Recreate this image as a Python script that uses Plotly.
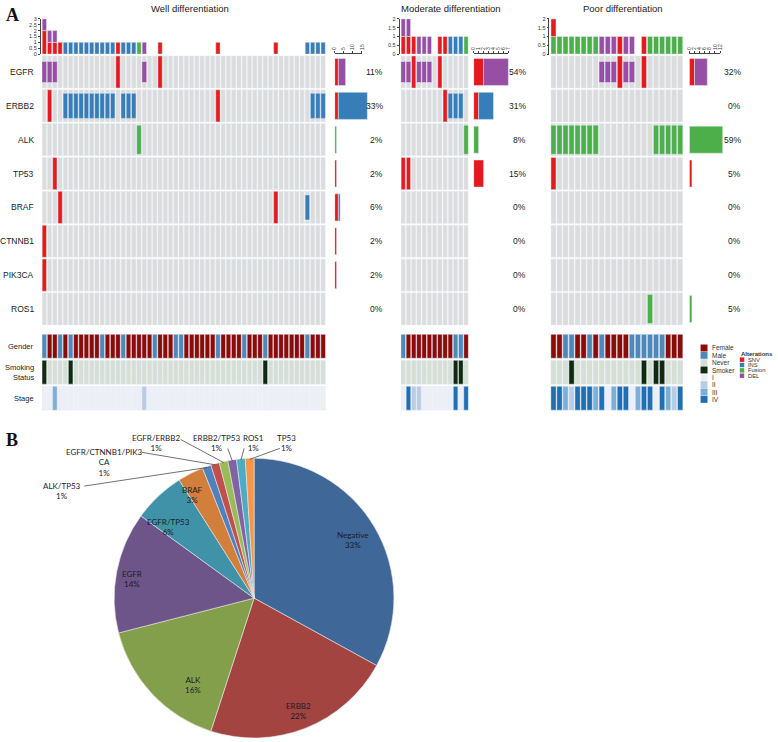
import math
import plotly.graph_objects as go

W, H = 778, 742

genes = ["EGFR", "ERBB2", "ALK", "TP53", "BRAF", "CTNNB1", "PIK3CA", "ROS1"]

# one string per gene, one character per patient
# S = SNV, I = INS, F = Fusion, D = DEL, _ = none
well_cells = [
    "DDD_______" "____S____D" "__S_______" "__________" "__________" "____",
    "_S__IIIIII" "IIII_III__" "__________" "___S______" "__________" "_III",
    "__________" "________F_" "__________" "__________" "__________" "____",
    "__S_______" "__________" "__________" "__________" "__________" "____",
    "___S______" "__________" "__________" "__________" "____S_____" "I___",
    "S_________" "__________" "__________" "__________" "__________" "____",
    "S_________" "__________" "__________" "__________" "__________" "____",
    "__________" "__________" "__________" "__________" "__________" "____",
]
moderate_cells = [
    "DDSDDD_S_____",
    "________SIII_",
    "____________F",
    "SS___________",
    "_____________",
    "_____________",
    "_____________",
    "_____________",
]
poor_cells = [
    "________DDDSDD_S______",
    "______________________",
    "FFFFFFFF_________FFFFF",
    "S_____________________",
    "______________________",
    "______________________",
    "______________________",
    "________________F_____",
]

# clinical annotation: gender F/M, smoking N(ever)/S(moker), stage 1-4
well_gender = "MFFMFMFFFF" "FMFFFMFFFF" "FMFFFMMFFF" "FFFMFFFFMF" "FFMFFFFFFF" "MFFF"
moderate_gender = "MFFFFFFFFFMMF"
poor_gender = "FFMMFFMFMFFFFMMMMMMFFF"
well_smoking = "SNNNNSNNNN" "NNNNNNNNNN" "NNNNNNNNNN" "NNNNNNNNNN" "NNSNNNNNNN" "NNNN"
moderate_smoking = "NNNNNNNNNNSSN"
poor_smoking = "NNNSNNNNNN" "NNNNNSNSSN" "NN"
well_stage = "1131111111" "1111111112" "1111111111" "1111111111" "1111111111" "1111"
moderate_stage = "1422111111414"
poor_stage = "4432444341" "3441344143" "24"

panel_titles = ["Well differentiation", "Moderate differentiation", "Poor differentiation"]
top_bar_max = [3, 2, 2]
count_ticks = [[0, 5, 10, 15], [0, 1, 2, 3, 4, 5, 6, 7], [0, 2, 4, 6, 8, 10, 12]]

pie_labels = ["Negative", "ERBB2", "ALK", "EGFR", "EGFR/TP53", "BRAF", "ALK/TP53",
              "EGFR/CTNNB1/PIK3CA", "EGFR/ERBB2", "ERBB2/TP53", "ROS1", "TP53"]
pie_values = [33, 22, 16, 14, 6, 3, 1, 1, 1, 1, 1, 1]

alt_code = {"SNV": "S", "INS": "I", "Fusion": "F", "DEL": "D"}
alt_color = {"SNV": "#E41A1C", "INS": "#377EB8", "Fusion": "#4DAF4A", "DEL": "#984EA3"}
glyph_h = {"SNV": 0.95, "INS": 0.74, "Fusion": 0.86, "DEL": 0.62}
glyph_w = {"SNV": 0.82, "INS": 0.86, "Fusion": 0.86, "DEL": 0.9}
gender_color = {"F": "#8B0A0A", "M": "#4E88BA"}
smoking_color = {"N": "#D5DFD5", "S": "#10290F"}
stage_color = {"1": "#EEEEF7", "2": "#BACBE4", "3": "#7DAED6", "4": "#1F6FB2"}
pie_colors = ["#3F6797", "#A34441", "#849F4C", "#6D5589", "#4092A8", "#D27F3B",
              "#4F81BD", "#C0504D", "#9BBB59", "#8064A2", "#4BACC6", "#F79646"]
GREY = "#DCDCDC"
FONT = "Liberation Sans"


def fx(p):
    return p / W


def fy(p):
    return 1 - p / H


fig = go.Figure()
lay = {}
nax = [0]


def new_axes(xdom, ydom, xr, yr):
    nax[0] += 1
    s = "" if nax[0] == 1 else str(nax[0])
    lay["xaxis" + s] = dict(domain=xdom, range=xr, anchor="y" + s, visible=False, fixedrange=True)
    lay["yaxis" + s] = dict(domain=ydom, range=yr, anchor="x" + s, visible=False, fixedrange=True)
    return "x" + s, "y" + s, "xaxis" + s, "yaxis" + s


def bar(**kw):
    fig.add_trace(go.Bar(hoverinfo="skip", showlegend=False, **kw))


annotations = []


def note(**kw):
    kw.setdefault("showarrow", False)
    kw.setdefault("xanchor", "center")
    kw.setdefault("yanchor", "middle")
    kw.setdefault("xref", "paper")
    kw.setdefault("yref", "paper")
    annotations.append(kw)


GRID_TOP, GRID_BOT = 52.5, 325.5
TOP_TOP, TOP_BOT = 16, 51.5
ANN_TOP, ANN_BOT = 333, 411.5

panels = [
    dict(cells=well_cells, gender=well_gender, smoking=well_smoking, stage=well_stage,
         x0=39, x1=325.3, bx0=334.3, ppu=1.827, bmax=19, pct=385, tx=188, labels=True),
    dict(cells=moderate_cells, gender=moderate_gender, smoking=moderate_smoking, stage=moderate_stage,
         x0=400.7, x1=469.3, bx0=474.3, ppu=5.0, bmax=7.3, pct=529, tx=451, labels=False),
    dict(cells=poor_cells, gender=poor_gender, smoking=poor_smoking, stage=poor_stage,
         x0=551.7, x1=685.5, bx0=691.7, ppu=2.583, bmax=13.5, pct=745.5, tx=624.5, labels=False),
]

for i, p in enumerate(panels):
    cells = p["cells"]
    n = len(cells[0])
    assert all(len(r) == n for r in cells)
    assert len(p["gender"]) == n and len(p["smoking"]) == n and len(p["stage"]) == n
    ng = len(genes)
    cw = 0.82 if n > 30 else (0.8 if n < 15 else 0.84)

    # main grid
    gx, gy, _, _ = new_axes([fx(p["x0"]), fx(p["x1"])], [fy(GRID_BOT), fy(GRID_TOP)],
                            [-0.5, n - 0.5], [ng - 0.5, -0.5])
    xs = [c for r in range(ng) for c in range(n)]
    bs = [r - 0.475 for r in range(ng) for c in range(n)]
    bar(x=xs, y=[0.95] * len(xs), base=bs, width=cw, marker_color=GREY, xaxis=gx, yaxis=gy)
    for t in ["Fusion", "DEL", "INS", "SNV"]:
        pts = [(c, r) for r, row in enumerate(cells) for c, ch in enumerate(row) if ch == alt_code[t]]
        if not pts:
            continue
        h = glyph_h[t]
        bar(x=[c for c, r in pts], y=[h] * len(pts), base=[r - h / 2 for c, r in pts],
            width=glyph_w[t] if t != "SNV" else cw, marker_color=alt_color[t], xaxis=gx, yaxis=gy)

    # top stacked bar of alteration counts per patient
    tx_, ty_, _, tyk = new_axes([fx(p["x0"]), fx(p["x1"])], [fy(TOP_BOT), fy(TOP_TOP)],
                                [-0.5, n - 0.5], [0, top_bar_max[i]])
    tv = [k / 2 for k in range(0, 2 * top_bar_max[i] + 1)]
    lay[tyk].update(visible=True, showgrid=False, zeroline=False, tickvals=tv,
                    ticktext=[("%g" % v) for v in tv], tickfont=dict(size=5.5, color="#333"),
                    showline=True, linecolor="#444", linewidth=0.8, ticks="outside",
                    ticklen=2, tickwidth=0.8, tickcolor="#444", anchor="free",
                    position=fx(p["x0"] - 2))
    cum = [0] * n
    for t in ["Fusion", "SNV", "INS", "DEL"]:
        cnt = [sum(1 for row in cells if row[c] == alt_code[t]) for c in range(n)]
        cols = [c for c in range(n) if cnt[c]]
        if not cols:
            continue
        bar(x=cols, y=[cnt[c] for c in cols], base=[cum[c] for c in cols], width=cw,
            marker_color=alt_color[t], xaxis=tx_, yaxis=ty_)
        for c in cols:
            cum[c] += cnt[c]

    # clinical annotation rows
    ax_, ay_, _, _ = new_axes([fx(p["x0"]), fx(p["x1"])], [fy(ANN_BOT), fy(ANN_TOP)],
                              [-0.5, n - 0.5], [2.5, -0.5])
    for r, (seq, cmap) in enumerate([(p["gender"], gender_color), (p["smoking"], smoking_color),
                                     (p["stage"], stage_color)]):
        for key, col in cmap.items():
            cols = [c for c, ch in enumerate(seq) if ch == key]
            if cols:
                bar(x=cols, y=[0.92] * len(cols), base=[r - 0.46] * len(cols), width=0.88,
                    marker_color=col, xaxis=ax_, yaxis=ay_)

    # right barplot of alteration counts per gene
    bx_, by_, _, _ = new_axes([fx(p["bx0"]), fx(p["bx0"] + p["bmax"] * p["ppu"])],
                              [fy(GRID_BOT), fy(GRID_TOP)], [0, p["bmax"]], [ng - 0.5, -0.5])
    cum = [0] * ng
    for t in ["SNV", "INS", "DEL", "Fusion"]:
        cnt = [row.count(alt_code[t]) for row in cells]
        rows = [r for r in range(ng) if cnt[r]]
        if not rows:
            continue
        bar(y=rows, x=[cnt[r] for r in rows], base=[cum[r] for r in rows], orientation="h",
            width=0.8, marker_color=alt_color[t], xaxis=bx_, yaxis=by_)
        for r in rows:
            cum[r] += cnt[r]

    # count axis (drawn only up to last tick)
    ticks = count_ticks[i]
    kx, ky, kxk, _ = new_axes([fx(p["bx0"]), fx(p["bx0"] + ticks[-1] * p["ppu"])],
                              [fy(GRID_BOT), fy(GRID_TOP)], [0, ticks[-1]], [ng - 0.5, -0.5])
    lay[kxk].update(visible=True, side="top", anchor="free", position=fy(50.7), showgrid=False,
                    zeroline=False, showline=True, linecolor="#444", linewidth=0.8,
                    ticks="outside", ticklen=2.5, tickwidth=0.8, tickcolor="#444",
                    tickvals=ticks, tickangle=-90, tickfont=dict(size=5, color="#333"))
    fig.add_trace(go.Scatter(x=[0], y=[0], mode="markers", marker=dict(opacity=0),
                             hoverinfo="skip", showlegend=False, xaxis=kx, yaxis=ky))

    # percentages
    for r, row in enumerate(cells):
        k = sum(ch != "_" for ch in row)
        note(x=fx(p["pct"]), xanchor="right", y=r, yref=gy, text="%d%%" % round(100 * k / n),
             font=dict(size=8.5, color="#222"))
    if p["labels"]:
        for r, g in enumerate(genes):
            note(x=fx(33.5), xanchor="right", y=r, yref=gy, text=g, font=dict(size=8.5, color="#222"))
        for r, g in enumerate(["Gender", "Smoking<br>Status", "Stage"]):
            note(x=fx(33.5), xanchor="right", y=r, yref=ay_, text=g, align="right",
                 font=dict(size=7.5, color="#222"))
    note(x=fx(p["tx"]), y=fy(6), text=panel_titles[i], font=dict(size=9.5, color="#222"))

# legends (clinical + alterations)
shapes = []
leg_items = [("Female", gender_color["F"]), ("Male", gender_color["M"]),
             ("Never", smoking_color["N"]), ("Smoker", smoking_color["S"]),
             ("I", stage_color["1"]), ("II", stage_color["2"]),
             ("III", stage_color["3"]), ("IV", stage_color["4"])]
for j, (lab, col) in enumerate(leg_items):
    y0 = 344.3 + 7.4 * j
    shapes.append(dict(type="rect", xref="paper", yref="paper", x0=fx(703), x1=fx(710),
                       y0=fy(y0), y1=fy(y0 + 7), fillcolor=col, line=dict(width=0)))
    note(x=fx(712), y=fy(y0 + 3.5), text=lab, xanchor="left", font=dict(size=6.5, color="#333"))
note(x=fx(741.5), y=fy(354.3), text="<b>Alterations</b>", xanchor="left", font=dict(size=6, color="#333"))
for j, t in enumerate(["SNV", "INS", "Fusion", "DEL"]):
    y0 = 357.3 + 5.4 * j
    shapes.append(dict(type="rect", xref="paper", yref="paper", x0=fx(742.5), x1=fx(747),
                       y0=fy(y0), y1=fy(y0 + 4.5), fillcolor=alt_color[t], line=dict(width=0)))
    note(x=fx(748.5), y=fy(y0 + 2.3), text=t, xanchor="left", font=dict(size=5.8, color="#333"))

# panel letters
for letter, yy in [("A", 12.5), ("B", 440.5)]:
    note(x=fx(1), y=fy(yy), text="<b>%s</b>" % letter, xanchor="left",
         font=dict(size=18, family="Liberation Serif", color="#111"))

# pie chart
CX, CY, R = 253, 600, 141
fig.add_trace(go.Pie(labels=pie_labels, values=pie_values, sort=False, direction="clockwise",
                     rotation=0, marker=dict(colors=pie_colors, line=dict(color="#E8E8E8", width=0.6)),
                     textinfo="none", hoverinfo="label+percent", showlegend=False,
                     domain=dict(x=[fx(CX - R), fx(CX + R)], y=[fy(CY + R), fy(CY - R)])))

total = sum(pie_values)
mid_angle = []
acc = 0
for v in pie_values:
    mid_angle.append(2 * math.pi * (acc + v / 2) / total)
    acc += v

PIE_FONT = dict(size=8, color="#1b1b2b", family="Lato")
# inside label placement: radius factor, angular nudge (degrees)
inside = {"Negative": (0.82, 0), "ERBB2": (0.87, 0), "ALK": (0.76, -12),
          "EGFR": (0.88, -2), "EGFR/TP53": (0.8, -7), "BRAF": (0.86, -4)}
for lab, v, a in zip(pie_labels, pie_values, mid_angle):
    if lab in inside:
        f, da = inside[lab]
        a = a + math.radians(da)
        note(x=fx(CX + f * R * math.sin(a)), y=fy(CY - f * R * math.cos(a)),
             text="%s<br>%d%%" % (lab, v), font=PIE_FONT)

# outside labels: label centre, leader start
outside = {
    "ALK/TP53": ((59, 491.5), (82, 487)),
    "EGFR/CTNNB1/PIK3CA": ((102, 463.5), (140, 453)),
    "EGFR/ERBB2": ((154, 443.2), (179, 440)),
    "ERBB2/TP53": ((215, 443.2), (226.5, 449)),
    "ROS1": ((252, 443.2), (243, 449)),
    "TP53": ((286, 443.2), (279, 449)),
}
for lab, v, a in zip(pie_labels, pie_values, mid_angle):
    if lab in outside:
        (lx, ly), (sx, sy) = outside[lab]
        txt = "EGFR/CTNNB1/PIK3<br>CA" if lab == "EGFR/CTNNB1/PIK3CA" else lab
        note(x=fx(lx), y=fy(ly), text="%s<br>%d%%" % (txt, v), font=PIE_FONT)
        ex, ey = CX + (R - 1) * math.sin(a), CY - (R - 1) * math.cos(a)
        shapes.append(dict(type="line", xref="paper", yref="paper", x0=fx(sx), y0=fy(sy),
                           x1=fx(ex), y1=fy(ey), line=dict(color="#333", width=0.7)))

fig.update_layout(
    width=W, height=H, margin=dict(l=0, r=0, t=0, b=0),
    paper_bgcolor="white", plot_bgcolor="rgba(0,0,0,0)", barmode="overlay",
    font=dict(family=FONT, color="#222"), showlegend=False,
    annotations=annotations, shapes=shapes, **lay,
)

fig.write_html("out.html", config={"displayModeBar": False},
               post_script="document.body.style.margin='0';document.body.style.overflow='hidden';")
